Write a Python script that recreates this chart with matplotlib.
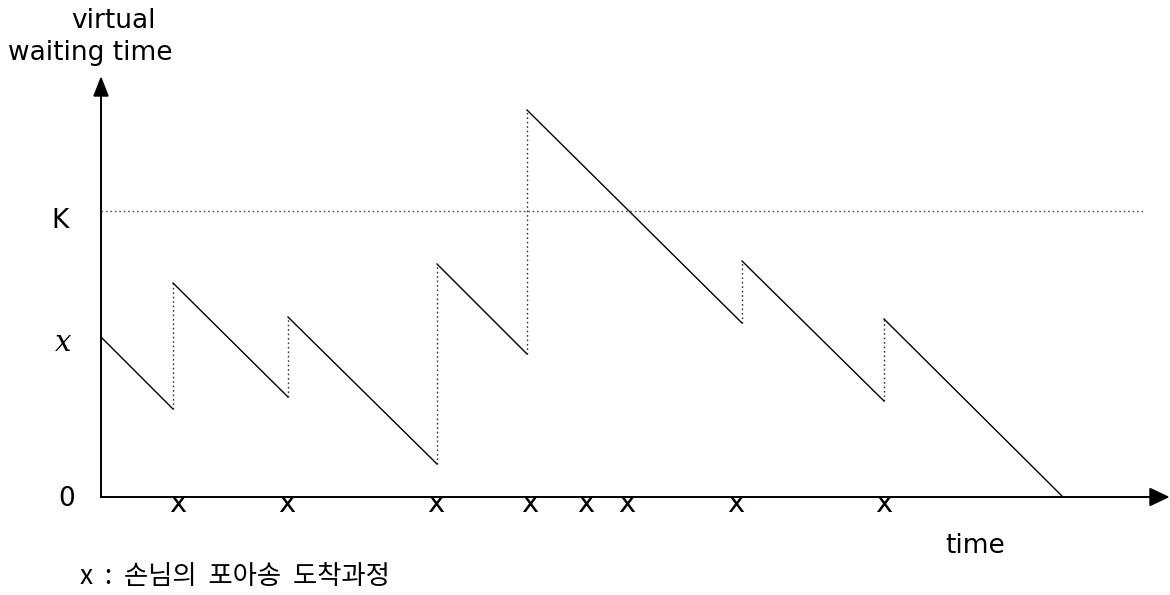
import matplotlib
matplotlib.use("Agg")
import matplotlib.pyplot as plt
from matplotlib.patches import Polygon

# ---- data (time units, workload units) ----
x0 = 16.0                      # initial virtual waiting time "x"
K = 28.6                       # capacity level
jump_times = [7.2, 18.7, 33.6, 42.6, 64.1, 78.3]
before_jump = [8.8, 10.0, 3.3, 14.3, 17.4, 9.6]
after_jump = [21.4, 18.0, 23.3, 38.7, 23.6, 17.8]
end_time = 96.2
arrival_marks = [7.7, 18.6, 33.5, 42.9, 48.5, 52.6, 63.5, 78.3]
y_tick_labels = ["0", "x", "K"]

fig = plt.figure(figsize=(11.7, 5.95), dpi=100)
ax = fig.add_axes([0, 0, 1, 1])
ax.set_xlim(-10.1, 106.9)
ax.set_ylim(-9.8, 49.7)
ax.axis("off")

lw = 1.0
# axes with arrows
ax.plot([0, 105.0], [0, 0], color="black", lw=1.4)
ax.plot([0, 0], [0, 40.0], color="black", lw=1.4)
ax.add_patch(Polygon([[104.9, 0.85], [106.7, 0], [104.9, -0.85]], closed=True, color="black"))
ax.add_patch(Polygon([[-0.7, 40.1], [0, 41.9], [0.7, 40.1]], closed=True, color="black"))

# K line
ax.plot([0, 104.4], [K, K], color="#555555", lw=1.0, ls=(0, (1.2, 2.0)))

# sawtooth
t_prev, v_prev = 0.0, x0
for t, lo, hi in zip(jump_times, before_jump, after_jump):
    ax.plot([t_prev, t], [v_prev, lo], color="black", lw=lw)
    ax.plot([t, t], [lo, hi], color="#333333", lw=1.0, ls=(0, (1.2, 2.0)))
    t_prev, v_prev = t, hi
ax.plot([t_prev, end_time], [v_prev, 0], color="black", lw=lw)

fs = 19
for tm in arrival_marks:
    ax.text(tm, -0.75, "x", ha="center", va="center", fontsize=21, family="DejaVu Sans")

ax.text(-2.6, -0.2, y_tick_labels[0], ha="right", va="center", fontsize=fs)
ax.text(-3.0, x0 - 0.6, y_tick_labels[1], ha="right", va="center", fontsize=fs + 2,
        family="DejaVu Serif", style="italic")
ax.text(-3.2, K - 1.0, y_tick_labels[2], ha="right", va="center", fontsize=fs)

ax.text(1.2, 47.6, "virtual", ha="center", va="center", fontsize=fs)
ax.text(-1.1, 44.4, "waiting time", ha="center", va="center", fontsize=fs)
ax.text(87.4, -4.9, "time", ha="center", va="center", fontsize=fs)
ax.text(-2.1, -7.9, "x  :  손님의  포아송  도착과정", ha="left", va="center", fontsize=19,
        family=["Noto Sans CJK KR", "DejaVu Sans"])

fig.savefig("out.png", dpi=100)
